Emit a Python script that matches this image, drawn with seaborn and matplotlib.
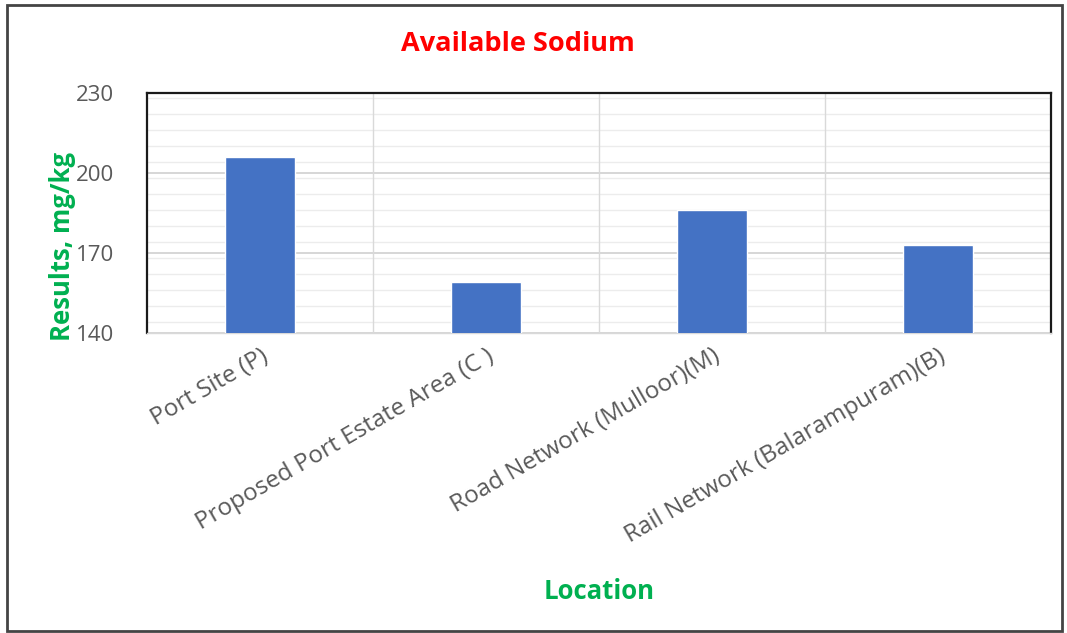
import matplotlib
matplotlib.use('Agg')
import matplotlib.pyplot as plt
import seaborn as sns
import pandas as pd
from matplotlib.patches import Rectangle
from matplotlib.ticker import MultipleLocator

# values
locations = ['Port Site (P)', 'Proposed Port Estate Area (C )',
             'Road Network (Mulloor)(M)', 'Rail Network (Balarampuram)(B)']
sodium = [206, 159, 186, 173]
y_ticks = [140, 170, 200, 230]

df = pd.DataFrame({'location': locations, 'sodium': sodium})

sns.set_style('white')
plt.rcParams['font.family'] = ['Open Sans', 'DejaVu Sans']

fig = plt.figure(figsize=(10.67, 6.33), dpi=100)
ax = fig.add_axes([0.1378, 0.474, 0.8472, 0.379])

sns.barplot(data=df, x='location', y='sodium', color='#4472c4', saturation=1,
            width=0.31, ax=ax, zorder=3)

ax.set_ylim(140, 230)
ax.set_yticks(y_ticks)
ax.yaxis.set_minor_locator(MultipleLocator(6))
ax.set_xlim(-0.5, len(locations) - 0.5)

# horizontal major/minor grid, vertical lines between categories
ax.grid(axis='y', which='major', color='#d0d0d0', linewidth=1.2, zorder=0)
ax.grid(axis='y', which='minor', color='#ececec', linewidth=1.0, zorder=0)
for b in [0.5, 1.5, 2.5]:
    ax.axvline(b, color='#d9d9d9', linewidth=1.0, zorder=1)

for side in ['left', 'top', 'right']:
    ax.spines[side].set_color('#1a1a1a')
    ax.spines[side].set_linewidth(1.6)
ax.spines['bottom'].set_color('#d9d9d9')
ax.spines['bottom'].set_linewidth(1.0)

ax.tick_params(axis='y', which='both', length=0, pad=24, labelsize=16, labelcolor='#595959')
ax.tick_params(axis='x', length=0, pad=8, labelsize=17.5, labelcolor='#595959')
plt.setp(ax.get_xticklabels(), rotation=30, ha='right', rotation_mode='anchor')

ax.set_xlabel('Location', color='#00b050', fontsize=18.5, fontweight='bold')
ax.xaxis.set_label_coords(0.5, -1.02)
ax.set_ylabel('Results, mg/kg', color='#00b050', fontsize=18.5, fontweight='bold')
ax.yaxis.set_label_coords(-0.079, 0.36)

fig.text(0.485, 0.93, 'Available Sodium', color='#ff0000', fontsize=19.5,
         fontweight='bold', ha='center', va='center')

# outer frame of the chart
fig.patches.append(Rectangle((0.007, 0.003), 0.988, 0.989, transform=fig.transFigure,
                             fill=False, edgecolor='#444444', linewidth=2.0))

fig.savefig('out.png', dpi=100)
plt.close()
